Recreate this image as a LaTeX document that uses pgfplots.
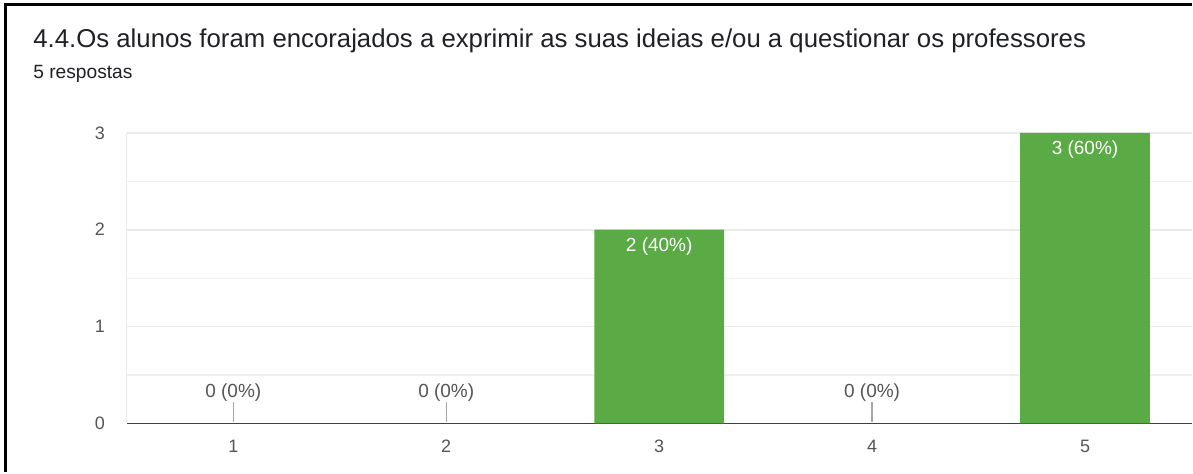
\documentclass[border=0pt]{standalone}
\usepackage{fontspec}
\setmainfont{Liberation Sans}
\usepackage{pgfplots}
\pgfplotsset{compat=1.18}
\definecolor{bargreen}{HTML}{5AAA45}
\definecolor{gridgray}{HTML}{EBEBEB}
\definecolor{txtgray}{HTML}{555555}
\definecolor{titlegray}{HTML}{202124}
\begin{document}
\begin{tikzpicture}
\fill[white] (0,0) rectangle (596.5pt,236.5pt);
\draw[line width=1.5pt, black] (3pt,0) -- (3pt,234pt) -- (596.5pt,234pt);
\node[anchor=base west, inner sep=0, text=titlegray, font=\fontsize{12.9}{15}\selectfont] at (16.5pt,212.5pt) {4.4.Os alunos foram encorajados a exprimir as suas ideias e/ou a questionar os professores};
\node[anchor=base west, inner sep=0, text=titlegray, font=\fontsize{9.6}{11}\selectfont] at (16.5pt,197pt) {5 respostas};
\begin{axis}[
  at={(63.5pt,24.5pt)}, anchor=south west,
  width=533pt, height=145.5pt, scale only axis,
  xmin=0.5, xmax=5.5, ymin=0, ymax=3,
  xtick={1,2,3,4,5}, ytick={0,1,2,3}, minor ytick={0.5,1.5,2.5},
  ymajorgrids, yminorgrids,
  major grid style={draw=gridgray, line width=0.8pt},
  minor grid style={draw=gridgray!80, line width=0.6pt},
  major tick length=0pt, minor tick length=0pt,
  axis x line=bottom, axis y line=left, axis line style={-},
  x axis line style={draw=black!75, line width=0.9pt},
  y axis line style={draw=gridgray, line width=0.6pt},
  /pgf/number format/assume math mode=true,
  tick label style={font=\fontsize{9}{10}\selectfont, text=txtgray},
  xticklabel style={anchor=center, yshift=-11.5pt},
  yticklabel style={anchor=center, xshift=-13.5pt},
  clip=false,
]
\addplot[ybar, bar width=65pt, fill=bargreen, draw=none,
  nodes near coords, point meta=explicit symbolic,
  every node near coord/.append style={anchor=north, inner sep=0pt, yshift=-4pt, text=white, font=\fontsize{9.5}{11}\selectfont}]
  coordinates {(3,2) [2 (40\%)] (5,3) [3 (60\%)]};
\addplot[only marks, mark=*, mark size=0pt, mark options={draw=none, fill=none},
  nodes near coords={},
  every node near coord/.append style={anchor=center, inner sep=0pt,
    pin={[pin distance=10pt, pin edge={draw=gray!70, line width=0.7pt}, inner sep=0pt, text=txtgray, font=\fontsize{9.5}{11}\selectfont]90:0 (0\%)}}]
  coordinates {(1,0) (2,0) (4,0)};
\end{axis}
\end{tikzpicture}
\end{document}
